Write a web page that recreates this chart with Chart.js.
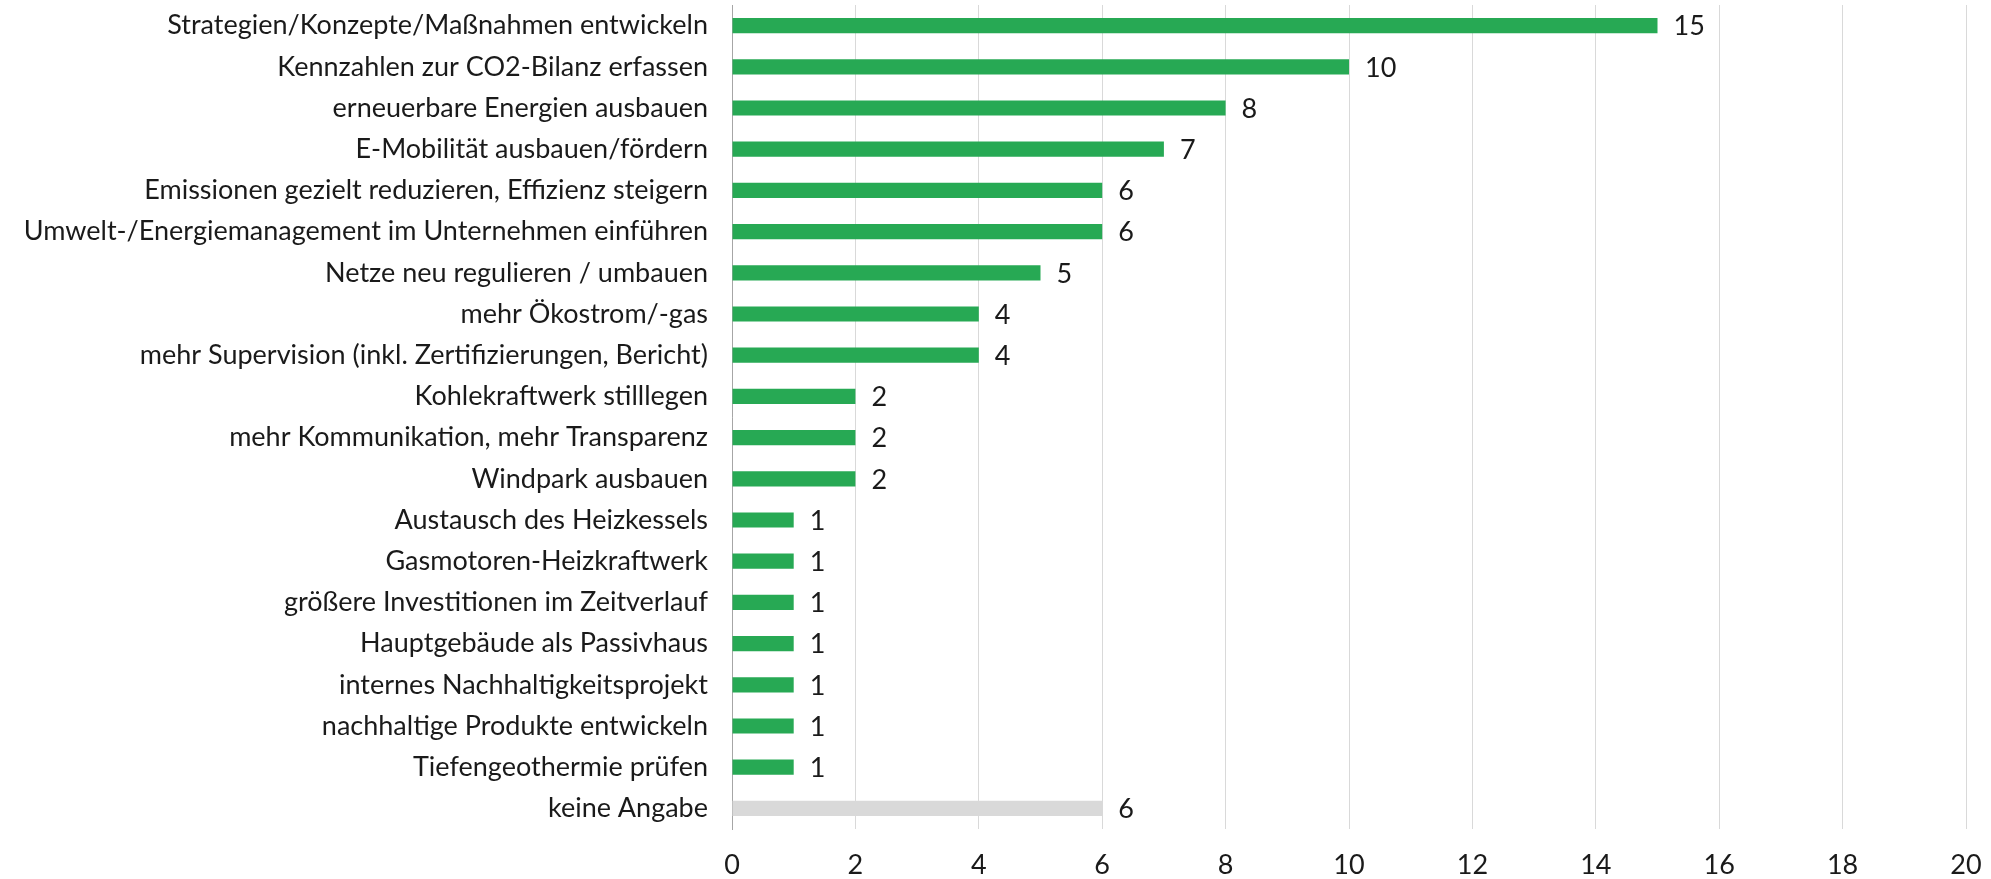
<!DOCTYPE html>
<html>
<head>
<meta charset="utf-8">
<script src="https://cdn.jsdelivr.net/npm/chart.js@4"></script>
<style>
  html, body { margin: 0; padding: 0; background: #fff; }
  #wrap { width: 1991px; height: 879px; }
</style>
</head>
<body>
<div id="wrap"><canvas id="chart" width="1991" height="879"></canvas></div>
<script>
// Kategorien (von oben nach unten)
const categories = [
  "Strategien/Konzepte/Maßnahmen entwickeln",
  "Kennzahlen zur CO2-Bilanz erfassen",
  "erneuerbare Energien ausbauen",
  "E-Mobilität ausbauen/fördern",
  "Emissionen gezielt reduzieren, Effizienz steigern",
  "Umwelt-/Energiemanagement im Unternehmen einführen",
  "Netze neu regulieren / umbauen",
  "mehr Ökostrom/-gas",
  "mehr Supervision (inkl. Zertifizierungen, Bericht)",
  "Kohlekraftwerk stilllegen",
  "mehr Kommunikation, mehr Transparenz",
  "Windpark ausbauen",
  "Austausch des Heizkessels",
  "Gasmotoren-Heizkraftwerk",
  "größere Investitionen im Zeitverlauf",
  "Hauptgebäude als Passivhaus",
  "internes Nachhaltigkeitsprojekt",
  "nachhaltige Produkte entwickeln",
  "Tiefengeothermie prüfen",
  "keine Angabe"
];

// Nennungen
const values = [15, 10, 8, 7, 6, 6, 5, 4, 4, 2, 2, 2, 1, 1, 1, 1, 1, 1, 1, 6];

// x-Achse 0..20
const xMin = 0;
const xMax = 20;
const xStep = 2;

const green = "#27a954";
const grey = "#d9d9d9";
const textColor = "#1a1a1a";
const fontFamily = "Lato, 'Open Sans', sans-serif";

// letzte Kategorie grau
const barColors = categories.map(c => c === "keine Angabe" ? grey : green);

// Werte rechts neben die Balken schreiben
const valueLabels = {
  id: "valueLabels",
  afterDatasetsDraw(chart) {
    const ctx = chart.ctx;
    const meta = chart.getDatasetMeta(0);
    ctx.save();
    ctx.fillStyle = textColor;
    ctx.font = "27px " + fontFamily;
    ctx.textAlign = "left";
    ctx.textBaseline = "middle";
    meta.data.forEach((bar, i) => {
      ctx.fillText(String(values[i]), bar.x + 16, bar.y + 1);
    });
    ctx.restore();
  }
};

new Chart(document.getElementById("chart"), {
  type: "bar",
  data: {
    labels: categories,
    datasets: [{
      data: values,
      backgroundColor: barColors,
      barPercentage: 0.37,
      categoryPercentage: 1
    }]
  },
  options: {
    indexAxis: "y",
    responsive: false,
    animation: false,
    layout: {
      padding: { top: 5, right: 25, left: 0, bottom: 0 }
    },
    plugins: {
      legend: { display: false },
      tooltip: { enabled: false }
    },
    scales: {
      x: {
        min: xMin,
        max: xMax,
        ticks: {
          stepSize: xStep,
          color: textColor,
          font: { family: fontFamily, size: 27 },
          padding: 20
        },
        grid: { color: grey, drawTicks: false },
        border: { display: false },
        afterFit(scale) {
          scale.height = 50;
          scale.paddingLeft = 0;
          scale.paddingRight = 0;
        }
      },
      y: {
        ticks: {
          color: textColor,
          font: { family: fontFamily, size: 27 },
          padding: 24,
          autoSkip: false
        },
        grid: { display: false, drawTicks: false },
        border: { display: true, color: "#a6a6a6" },
        afterFit(scale) {
          scale.width = 732;
          scale.paddingTop = 0;
          scale.paddingBottom = 0;
        }
      }
    }
  },
  plugins: [valueLabels]
});
</script>
</body>
</html>
